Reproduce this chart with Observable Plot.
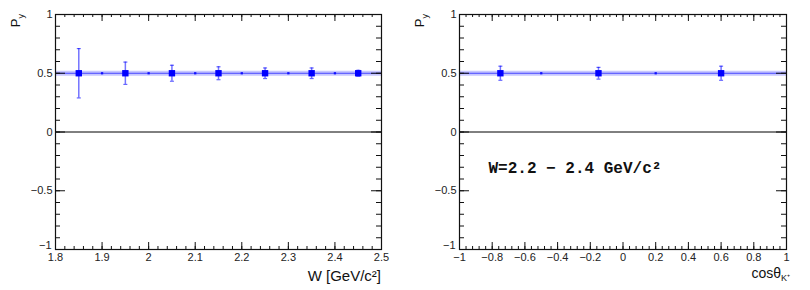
<!DOCTYPE html>
<html>
<head>
<meta charset="utf-8">
<script src="https://cdn.jsdelivr.net/npm/d3@7"></script>
<script src="https://cdn.jsdelivr.net/npm/@observablehq/plot@0.6"></script>
<style>
  html, body { margin: 0; padding: 0; background: #fff; }
  #wrap { position: relative; width: 810px; height: 290px; }
  #left { position: absolute; left: 0; top: 0; }
  #right { position: absolute; left: 400px; top: 0; }
</style>
</head>
<body>
<div id="wrap"><div id="left"></div><div id="right"></div></div>
<script>
// ---- data: P_y vs W ----
const wBins = [1.85, 1.95, 2.05, 2.15, 2.25, 2.35, 2.45];
const wPy   = [0.5, 0.5, 0.5, 0.5, 0.5, 0.5, 0.5];
const wErr  = [0.21, 0.095, 0.068, 0.055, 0.045, 0.045, 0.025];
const wModelX = [1.9, 2.0, 2.1, 2.2, 2.3, 2.4];
const wModelY = [0.5, 0.5, 0.5, 0.5, 0.5, 0.5];
const wFit = 0.5;
const wTicks = [1.8, 1.9, 2, 2.1, 2.2, 2.3, 2.4, 2.5];

// ---- data: P_y vs cos theta_K+ ----
const cBins = [-0.75, -0.15, 0.6];
const cPy   = [0.5, 0.5, 0.5];
const cErr  = [0.06, 0.05, 0.06];
const cModelX = [-0.5, 0.2];
const cModelY = [0.5, 0.5];
const cFit = 0.5;
const cTicks = [-1, -0.8, -0.6, -0.4, -0.2, 0, 0.2, 0.4, 0.6, 0.8, 1];

const yTicks = [-1, -0.5, 0, 0.5, 1];
const yMinor = d3.range(-10, 11).map(i => +(i / 10).toFixed(2));

const H = 290, mTop = 14, mBottom = 41;
const frameH = H - mTop - mBottom;
const fmt = d3.format("");

const capSymbol = {
  draw(ctx, size) {
    const r = Math.sqrt(size / Math.PI);
    ctx.moveTo(-r, 0); ctx.lineTo(r, 0);
  }
};

function panel({width, mLeft, mRight, xDomain, xTicks, xMinorStep, bins, py, err, mx, my, fit, extra}) {
  const frameW = width - mLeft - mRight;
  const pts = bins.map((x, i) => ({x, y: py[i], e: err[i]}));
  const model = mx.map((x, i) => ({x, y: my[i]}));
  const n = Math.round((xDomain[1] - xDomain[0]) / xMinorStep);
  const xMinor = d3.range(0, n + 1).map(i => +(xDomain[0] + i * xMinorStep).toFixed(4));
  const blue = "#0000ff";
  return Plot.plot({
    width, height: H,
    marginLeft: mLeft, marginRight: mRight, marginTop: mTop, marginBottom: mBottom,
    style: {fontFamily: "Liberation Sans, Arial, sans-serif", fontSize: "11px", color: "#222", background: "white"},
    x: {domain: xDomain, label: null},
    y: {domain: [-1, 1], label: null},
    marks: [
      Plot.ruleY([0], {stroke: "black", strokeWidth: 1}),
      Plot.ruleY([fit], {stroke: blue, strokeOpacity: 0.22, strokeWidth: 5}),
      Plot.ruleY([fit], {stroke: blue, strokeOpacity: 0.65, strokeWidth: 1}),
      Plot.dot(model, {x: "x", y: "y", symbol: "square", r: 1.3, fill: blue, fillOpacity: 0.85}),
      Plot.ruleX(pts, {x: "x", y1: d => d.y - d.e, y2: d => d.y + d.e, stroke: blue, strokeOpacity: 0.55, strokeWidth: 1.5}),
      Plot.dot(pts, {x: "x", y: d => d.y + d.e, symbol: capSymbol, r: 2, stroke: blue, strokeOpacity: 0.6, strokeWidth: 1.2}),
      Plot.dot(pts, {x: "x", y: d => d.y - d.e, symbol: capSymbol, r: 2, stroke: blue, strokeOpacity: 0.6, strokeWidth: 1.2}),
      Plot.dot(pts, {x: "x", y: "y", symbol: "square", r: 3.6, fill: blue}),
      // inside ticks, x minor + major, bottom and top
      Plot.ruleX(xMinor, {insetTop: frameH - 3, stroke: "#111"}),
      Plot.ruleX(xMinor, {insetBottom: frameH - 3, stroke: "#111"}),
      Plot.ruleX(xTicks, {insetTop: frameH - 7, stroke: "#111"}),
      Plot.ruleX(xTicks, {insetBottom: frameH - 7, stroke: "#111"}),
      // inside ticks, y minor + major, left and right
      Plot.ruleY(yMinor, {insetRight: frameW - 5, stroke: "#111"}),
      Plot.ruleY(yMinor, {insetLeft: frameW - 5, stroke: "#111"}),
      Plot.ruleY(yTicks, {insetRight: frameW - 10, stroke: "#111"}),
      Plot.ruleY(yTicks, {insetLeft: frameW - 10, stroke: "#111"}),
      Plot.frame({stroke: "#111", strokeWidth: 1.2}),
      Plot.axisX({ticks: xTicks, tickSize: 0, tickPadding: 4, tickFormat: fmt}),
      Plot.axisY({ticks: yTicks.filter(d => d !== -1), tickSize: 0, tickPadding: 3, tickFormat: fmt}),
      Plot.axisY({ticks: [-1], tickSize: 0, tickPadding: 4, dy: -4, tickFormat: fmt}),
      ...(extra || [])
    ]
  });
}

function addYLabel(svg, x) {
  const t = d3.select(svg).append("text")
    .attr("transform", `translate(${x},${mTop}) rotate(-90)`)
    .attr("text-anchor", "end")
    .attr("font-family", "Liberation Sans, Arial, sans-serif")
    .attr("font-size", 13).attr("fill", "#111");
  t.append("tspan").text("P");
  t.append("tspan").attr("font-size", 9).attr("dy", 4).text("y");
}

const left = panel({
  width: 400, mLeft: 55, mRight: 19, xDomain: [1.8, 2.5], xTicks: wTicks, xMinorStep: 0.02,
  bins: wBins, py: wPy, err: wErr, mx: wModelX, my: wModelY, fit: wFit
});
addYLabel(left, 20);
d3.select(left).append("text")
  .attr("x", 381).attr("y", 281).attr("text-anchor", "end")
  .attr("font-family", "Liberation Sans, Arial, sans-serif").attr("font-size", 15).attr("fill", "#111")
  .text("W [GeV/c²]");
document.getElementById("left").appendChild(left);

const right = panel({
  width: 410, mLeft: 59, mRight: 24, xDomain: [-1, 1], xTicks: cTicks, xMinorStep: 0.04,
  bins: cBins, py: cPy, err: cErr, mx: cModelX, my: cModelY, fit: cFit,
  extra: [
    Plot.text(["W=2.2 − 2.4 GeV/c²"], {
      frameAnchor: "left", dx: 29, dy: 36, textAnchor: "start",
      fontFamily: "Liberation Mono, Courier New, monospace", fontWeight: "bold", fontSize: 16, fill: "#111"
    })
  ]
});
addYLabel(right, 24);
{
  const t = d3.select(right).append("text")
    .attr("x", 390).attr("y", 278).attr("text-anchor", "end")
    .attr("font-family", "Liberation Sans, Arial, sans-serif").attr("font-size", 14).attr("fill", "#111");
  t.append("tspan").text("cosθ");
  t.append("tspan").attr("font-size", 9).attr("dy", 3).text("K⁺");
}
document.getElementById("right").appendChild(right);
</script>
</body>
</html>
